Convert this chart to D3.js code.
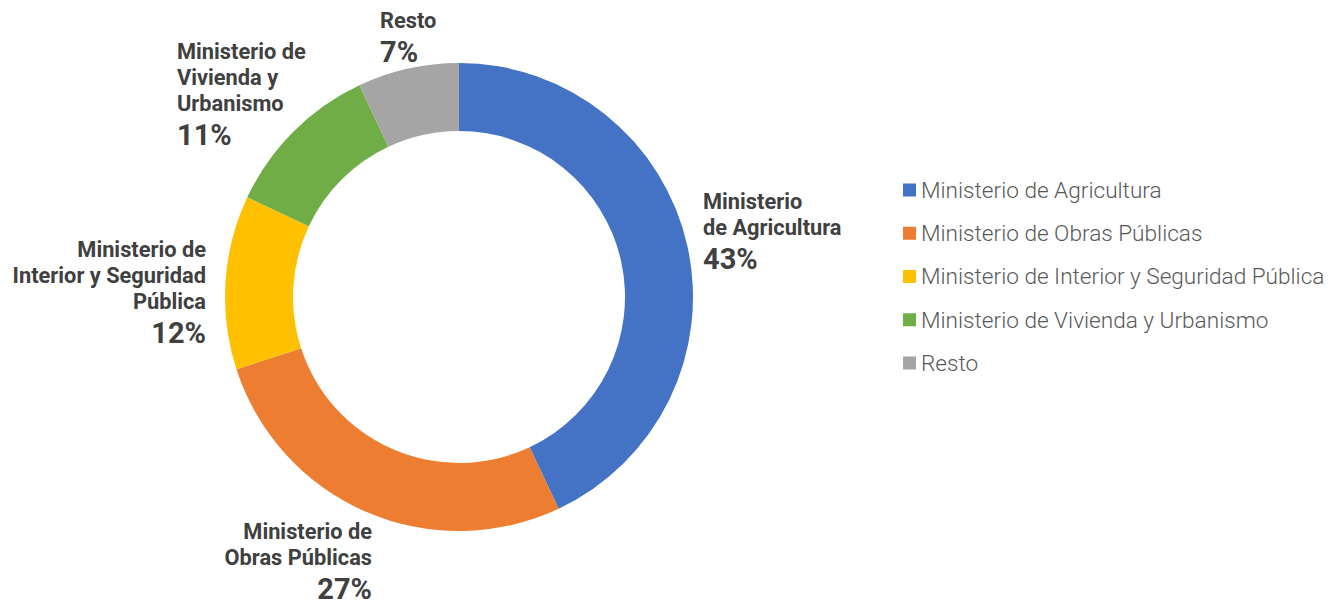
<!DOCTYPE html>
<html lang="es">
<head>
    <meta charset="UTF-8">
    <title>Distribución por ministerio</title>
    <script src="https://d3js.org/d3.v7.min.js"></script>
    <style>
        body { margin: 0; background: #fff; }
        .lbl { font-family: Roboto, "Noto Sans", sans-serif; font-weight: bold; fill: #404040; }
        .legend text { font-family: Roboto, "Noto Sans", sans-serif; font-weight: 300; fill: #595959; }
    </style>
</head>
<body>
    <script>
        // data
        const categories = ["Ministerio de Agricultura", "Ministerio de Obras Públicas",
            "Ministerio de Interior y Seguridad Pública", "Ministerio de Vivienda y Urbanismo", "Resto"];
        const values = [43, 27, 12, 11, 7];
        // label text as broken in the picture
        const labelLines = [
            ["Ministerio", "de Agricultura"],
            ["Ministerio de", "Obras Públicas"],
            ["Ministerio de", "Interior y Seguridad", "Pública"],
            ["Ministerio de", "Vivienda y", "Urbanismo"],
            ["Resto"]
        ];
        const colors = ["#4472C4", "#ED7D31", "#FFC000", "#70AD47", "#A5A5A5"];

        const width = 1337, height = 603;
        const cx = 459, cy = 297, outerR = 234, innerR = 166;

        // label placement relative to the centre: dx, dy of first baseline, anchor
        const labelLayout = [
            { dx: 244, dy: -88, anchor: "start" },
            { dx: -87, dy: 242, anchor: "end" },
            { dx: -253, dy: -40, anchor: "end" },
            { dx: -282, dy: -238, anchor: "start" },
            { dx: -79, dy: -269, anchor: "start" }
        ];

        const svg = d3.select("body").append("svg")
            .attr("width", width)
            .attr("height", height);

        const pie = d3.pie().sort(null).value(d => d.value);
        const arcs = pie(categories.map((c, i) => ({ name: c, value: values[i], i: i })));
        const arc = d3.arc().innerRadius(innerR).outerRadius(outerR);

        const g = svg.append("g").attr("transform", `translate(${cx},${cy})`);

        g.selectAll("path")
            .data(arcs)
            .enter().append("path")
            .attr("d", arc)
            .attr("fill", d => colors[d.data.i]);

        const total = d3.sum(values);
        const labels = g.selectAll("text.lbl")
            .data(arcs)
            .enter().append("text")
            .attr("class", "lbl")
            .attr("text-anchor", d => labelLayout[d.data.i].anchor);

        labels.each(function(d) {
            const t = d3.select(this);
            const lay = labelLayout[d.data.i];
            const lines = labelLines[d.data.i];
            lines.forEach((s, k) => {
                t.append("tspan")
                    .attr("x", lay.dx)
                    .attr("y", lay.dy + k * 26)
                    .attr("font-size", 21.8)
                    .text(s);
            });
            t.append("tspan")
                .attr("x", lay.dx)
                .attr("y", lay.dy + (lines.length - 1) * 26 + 34)
                .attr("font-size", 29)
                .text(Math.round(d.data.value / total * 100) + "%");
        });

        // legend
        const legY = d3.scalePoint().domain(categories).range([190, 363]);
        const legend = svg.append("g").attr("class", "legend")
            .selectAll("g")
            .data(categories)
            .enter().append("g")
            .attr("transform", d => `translate(903,${legY(d)})`);

        legend.append("rect")
            .attr("x", 0)
            .attr("y", -6.5)
            .attr("width", 13)
            .attr("height", 13)
            .attr("fill", (d, i) => colors[i]);

        legend.append("text")
            .attr("x", 18)
            .attr("y", 0)
            .attr("dy", "0.35em")
            .attr("font-size", 22.6)
            .text(d => d);
    </script>
</body>
</html>
